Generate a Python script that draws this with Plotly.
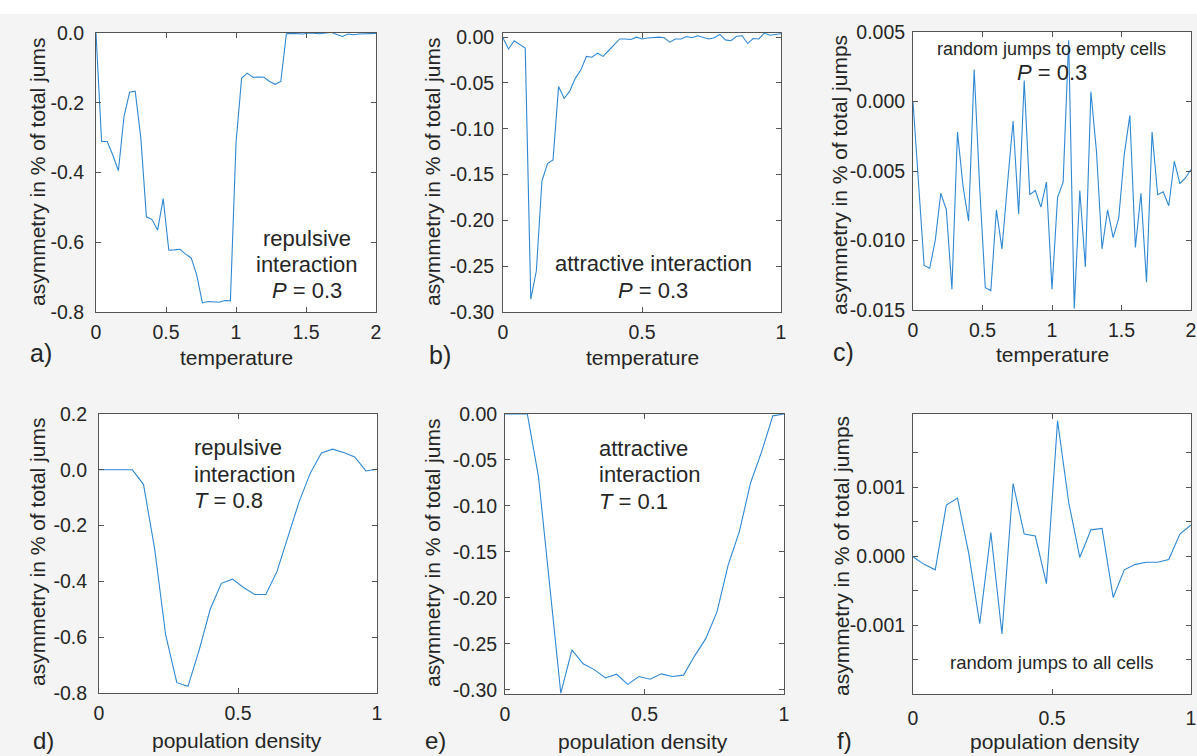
import numpy as np
import plotly.graph_objects as go

W, H = 1197, 756

# ---------------- data ----------------
temp_a = np.round(np.linspace(0, 2, 51), 2)
asym_a = [0.0, -0.311, -0.311, -0.35, -0.395, -0.24, -0.17, -0.167, -0.30, -0.527,
          -0.535, -0.565, -0.475, -0.623, -0.622, -0.62, -0.634, -0.645, -0.695, -0.774,
          -0.77, -0.771, -0.772, -0.767, -0.768, -0.316, -0.13, -0.115, -0.127, -0.126,
          -0.127, -0.139, -0.147, -0.139, -0.002, -0.001, -0.001, -0.003, 0.0, -0.002,
          -0.002, 0.0, 0.002, -0.004, -0.01, -0.003, -0.005, -0.003, -0.002, -0.003, -0.001]

temp_b = np.round(np.linspace(0, 1, 51), 2)
asym_b = [-0.001, -0.013, -0.004, -0.008, -0.012, -0.286, -0.255, -0.157, -0.138, -0.134,
          -0.054, -0.067, -0.059, -0.045, -0.036, -0.021, -0.022, -0.0175, -0.021, -0.0146,
          -0.0084, -0.002, -0.002, -0.0026, 0.0, -0.002, -0.001, -0.0004, 0.0, -0.0007,
          -0.0055, -0.002, -0.002, 0.0007, -0.0007, 0.0015, 0.0, -0.002, -0.0007, 0.003,
          -0.003, -0.004, 0.001, 0.0015, -0.007, -0.0015, -0.002, 0.0044, 0.002, 0.003, 0.0036]

temp_c = np.round(np.linspace(0, 2, 51), 2)
asym_c = [0.0, -0.006, -0.0118, -0.012, -0.010, -0.0066, -0.0078, -0.0135, -0.0022, -0.0061,
          -0.0086, 0.0023, -0.0062, -0.0134, -0.0136, -0.0078, -0.0106, -0.0059, -0.0014, -0.0081,
          0.0015, -0.0067, -0.0064, -0.0076, -0.0058, -0.0135, -0.0069, -0.0058, 0.0044, -0.0149,
          -0.0064, -0.0119, 0.0007, -0.0036, -0.0106, -0.0078, -0.0098, -0.0084, -0.0038, -0.001,
          -0.0105, -0.0066, -0.013, -0.0022, -0.0067, -0.0065, -0.0075, -0.0043, -0.0059, -0.0055,
          -0.0049]

dens_d = np.round(np.linspace(0, 1, 26), 2)
asym_d = [0.0, 0.0, 0.0, 0.0, -0.052, -0.282, -0.593, -0.763, -0.776, -0.647,
          -0.50, -0.407, -0.392, -0.422, -0.447, -0.447, -0.365, -0.24, -0.114, -0.012,
          0.06, 0.074, 0.062, 0.046, -0.004, 0.002]

dens_e = np.round(np.linspace(0, 1, 26), 2)
asym_e = [0.0, 0.0, 0.0, -0.068, -0.188, -0.3036, -0.2565, -0.2717, -0.278, -0.287,
          -0.283, -0.294, -0.2855, -0.2884, -0.2826, -0.2855, -0.284, -0.263, -0.244, -0.215,
          -0.164, -0.128, -0.075, -0.041, -0.002, 0.0]

dens_f = np.round(np.linspace(0, 1, 26), 2)
asym_f = [-0.00001, -0.00012, -0.0002, 0.00074, 0.00084, 0.00005, -0.00098, 0.00034, -0.00113, 0.00105,
          0.00032, 0.00029, -0.0004, 0.00196, 0.00078, -0.00002, 0.00038, 0.0004, -0.0006, -0.0002,
          -0.00012, -0.00009, -0.00009, -0.00005, 0.00032, 0.00045]

# tick labels
xt_temp2 = [0, 0.5, 1, 1.5, 2]
xt_temp2_txt = ["0", "0.5", "1", "1.5", "2"]
xt_unit = [0, 0.5, 1]
xt_unit_txt = ["0", "0.5", "1"]
yt_a = [0.0, -0.2, -0.4, -0.6, -0.8]
yt_a_txt = ["0.0", "-0.2", "-0.4", "-0.6", "-0.8"]
yt_b = [0.0, -0.05, -0.10, -0.15, -0.20, -0.25, -0.30]
yt_b_txt = ["0.00", "-0.05", "-0.10", "-0.15", "-0.20", "-0.25", "-0.30"]
yt_c = [0.005, 0.0, -0.005, -0.010, -0.015]
yt_c_txt = ["0.005", "0.000", "-0.005", "-0.010", "-0.015"]
yt_d = [0.2, 0.0, -0.2, -0.4, -0.6, -0.8]
yt_d_txt = ["0.2", "0.0", "-0.2", "-0.4", "-0.6", "-0.8"]
yt_e = yt_b
yt_e_txt = yt_b_txt
yt_f = [0.0015, 0.001, 0.0005, 0.0, -0.0005, -0.001, -0.0015]
yt_f_txt = ["", "0.001", "", "0.000", "", "-0.001", ""]

# ---------------- layout helpers ----------------
def X(px):
    return px / W

def Y(py):
    return 1 - py / H

FONT = "Liberation Sans, Arial, Helvetica, sans-serif"
TXT = "#262626"
AX = "#555555"
LINE = "#3088d4"
TICK = 19.5

panels = [
    # (x, y, xr, yr, xtv, xtt, ytv, ytt, box px (l, r, t, b), x std, y std)
    (temp_a, asym_a, [0, 2], [-0.8, 0.0], xt_temp2, xt_temp2_txt, yt_a, yt_a_txt, (96, 376, 33, 312), 3, 7),
    (temp_b, asym_b, [0, 1], [-0.30, 0.0045], xt_unit, xt_unit_txt, yt_b, yt_b_txt, (503, 781, 33, 312), 3, 4),
    (temp_c, asym_c, [0, 2], [-0.015, 0.005], xt_temp2, xt_temp2_txt, yt_c, yt_c_txt, (913, 1191, 32, 310), 3, 3),
    (dens_d, asym_d, [0, 1], [-0.8, 0.2], xt_unit, xt_unit_txt, yt_d, yt_d_txt, (99, 377, 414, 693), 3, 7),
    (dens_e, asym_e, [0, 1], [-0.3045, 0.0], xt_unit, xt_unit_txt, yt_e, yt_e_txt, (505, 784, 414, 694), 3, 3),
    (dens_f, asym_f, [0, 1], [-0.002, 0.00206], xt_unit, xt_unit_txt, yt_f, yt_f_txt, (913, 1191, 414, 694), 7, 3),
]

fig = go.Figure()
layout = dict(
    width=W, height=H, margin=dict(l=0, r=0, t=0, b=0, pad=0), autosize=False,
    paper_bgcolor="#f4f4f4", plot_bgcolor="white", showlegend=False,
    font=dict(family=FONT, color=TXT, size=20),
)

for i, (xs, ys, xr, yr, xtv, xtt, ytv, ytt, box, xstd, ystd) in enumerate(panels):
    n = i + 1
    xa = "x" if n == 1 else f"x{n}"
    ya = "y" if n == 1 else f"y{n}"
    fig.add_trace(go.Scatter(x=list(xs), y=ys, mode="lines", xaxis=xa, yaxis=ya,
                             line=dict(color=LINE, width=1.1), hoverinfo="skip"))
    l, r, t, b = box
    common = dict(showline=True, linecolor=AX, linewidth=1, mirror="ticks", ticks="inside",
                  ticklen=5, tickcolor=AX, showgrid=False, zeroline=False, automargin=False,
                  tickfont=dict(family=FONT, size=TICK, color=TXT))
    layout["xaxis" if n == 1 else f"xaxis{n}"] = dict(
        domain=[X(l), X(r)], range=xr, anchor=ya, tickmode="array", tickvals=xtv, ticktext=xtt,
        ticklabelstandoff=xstd, **common)
    layout["yaxis" if n == 1 else f"yaxis{n}"] = dict(
        domain=[Y(b), Y(t)], range=yr, anchor=xa, tickmode="array", tickvals=ytv, ticktext=ytt,
        ticklabelstandoff=ystd, **common)

fig.update_layout(**layout)

# white band at top
fig.add_shape(type="rect", xref="paper", yref="paper", x0=0, x1=1, y0=Y(14), y1=1,
              fillcolor="white", line=dict(width=0), layer="below")

def ann(text, px, py, size=21, xanchor="center", angle=0, align="center"):
    fig.add_annotation(text=text, x=X(px), y=Y(py), xref="paper", yref="paper",
                       showarrow=False, xanchor=xanchor, yanchor="middle", textangle=angle,
                       align=align, borderpad=0,
                       font=dict(family=FONT, size=size, color=TXT))

# y-axis titles
ann("asymmetry in % of total jums", 38, 172, angle=-90)
ann("asymmetry in % of total jums", 433, 172, angle=-90)
ann("asymmetry in % of total jumps", 839, 175, angle=-90)
ann("asymmetry in % of total jums", 37, 552, angle=-90)
ann("asymmetry in % of total jums", 432, 553, angle=-90)
ann("asymmetry in % of total jumps", 841, 556, angle=-90)

# x-axis titles
ann("temperature", 236, 357)
ann("temperature", 642, 357)
ann("temperature", 1052, 355)
ann("population density", 237, 740)
ann("population density", 643, 741)
ann("population density", 1055, 741)

# panel letters
ann("a)", 41, 353, size=25)
ann("b)", 440, 355, size=25)
ann("c)", 843, 352, size=25)
ann("d)", 43, 740, size=24)
ann("e)", 435, 740, size=24)
ann("f)", 844, 740, size=24)

# in-plot labels
ann("repulsive", 307, 238, size=22)
ann("interaction", 307, 264, size=22)
ann("<i>P</i> = 0.3", 307, 290, size=22)
ann("attractive interaction", 653, 263, size=22)
ann("<i>P</i> = 0.3", 653, 290, size=22)
ann("random jumps to empty cells", 1051, 49, size=18)
ann("<i>P</i> = 0.3", 1052, 72, size=22)
ann("repulsive", 193, 447, size=22, xanchor="left")
ann("interaction", 193, 474, size=22, xanchor="left")
ann("<i>T</i> = 0.8", 193, 500, size=22, xanchor="left")
ann("attractive", 598, 448, size=22, xanchor="left")
ann("interaction", 598, 475, size=22, xanchor="left")
ann("<i>T</i> = 0.1", 598, 501, size=22, xanchor="left")
ann("random jumps to all cells", 1052, 662, size=18.5)

fig.write_html(
    "out.html",
    post_script="document.body.style.margin='0';document.body.style.padding='0';"
                "document.body.style.overflow='hidden';"
)
